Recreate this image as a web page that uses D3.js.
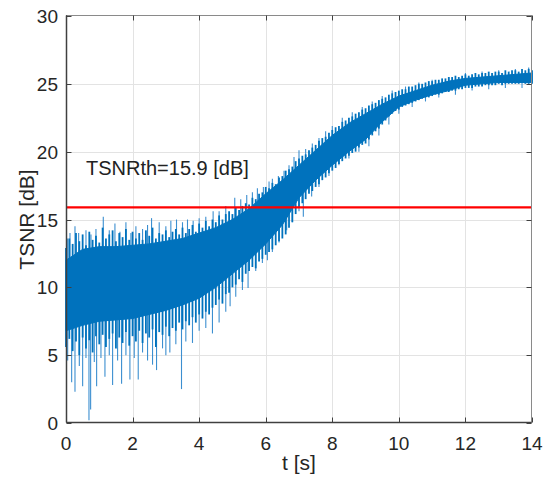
<!DOCTYPE html>
<html>
<head>
<meta charset="utf-8">
<script src="https://d3js.org/d3.v7.min.js"></script>
<style>
  body{ margin:0; background:#fff; }
  svg{ display:block; font-family:"Liberation Sans", Arial, sans-serif; }
</style>
</head>
<body>
<script>
    // solid part of the band, every 0.5 s
    var tGrid  = [0,0.5,1,1.5,2,2.5,3,3.5,4,4.5,5,5.5,6,6.5,7,7.5,8,8.5,9,9.5,10,10.5,11,11.5,12,12.5,13,13.5,14];
    var coreHi = [12.0,12.8,13.0,13.0,13.1,13.2,13.4,13.6,14.0,14.4,15.0,15.8,16.9,17.9,19.0,20.1,21.2,22.1,22.8,23.5,24.1,24.5,24.9,25.2,25.4,25.5,25.6,25.7,25.8];
    var coreLo = [6.8,7.2,7.5,7.6,7.7,8.0,8.3,8.7,9.2,10.0,11.0,12.0,13.2,14.6,16.6,17.9,19.0,20.0,20.9,22.2,23.3,23.8,24.2,24.5,24.9,25.0,25.1,25.1,25.1];

    // ragged edge of the band, every 0.1 s (max / min within each slice)
    var edgeHi = [12.9,13.6,13.2,14.0,13.4,13.9,13.1,14.1,13.5,13.8,
                  13.3,14.4,13.6,13.9,14.2,13.4,14.0,13.7,14.3,13.5,
                  14.1,13.6,14.0,13.5,14.2,13.8,14.4,13.6,14.0,13.9,
                  14.2,13.7,14.1,14.3,13.9,14.4,14.0,14.3,14.6,14.1,
                  14.7,14.4,14.9,14.5,15.0,14.8,15.3,15.0,15.4,15.6,
                  15.4,15.9,15.7,16.0,16.2,16.1,16.6,16.5,16.9,17.0,
                  17.4,17.3,17.7,17.6,18.1,18.2,18.6,18.7,18.9,19.3,
                  19.5,19.7,19.8,20.1,20.3,20.5,20.8,21.0,21.1,21.4,
                  21.6,21.8,21.9,22.2,22.3,22.5,22.6,22.8,22.9,23.1,
                  23.2,23.4,23.5,23.6,23.8,23.9,24.0,24.2,24.3,24.4,
                  24.5,24.6,24.6,24.8,24.8,24.9,25.0,25.0,25.1,25.2,
                  25.2,25.3,25.3,25.4,25.4,25.5,25.5,25.6,25.5,25.6,
                  25.7,25.6,25.7,25.8,25.7,25.8,25.8,25.9,25.8,25.9,
                  25.9,25.8,26.0,25.9,26.0,26.0,25.9,26.1,26.0,26.1,
                  26.0];
    var edgeLo = [5.6,6.2,5.3,6.0,5.0,6.3,5.5,6.1,5.2,6.4,
                  5.8,6.5,5.6,6.2,6.6,5.5,6.3,5.9,6.7,5.7,
                  6.4,6.0,6.8,5.9,6.6,6.3,6.9,5.6,6.7,6.5,
                  7.1,6.4,7.0,6.8,7.4,6.9,7.5,7.2,7.8,7.4,
                  8.0,7.7,8.2,8.0,8.5,8.7,9.1,8.8,9.5,9.6,
                  10.0,10.2,10.6,10.4,11.0,11.2,11.5,11.4,11.9,12.1,
                  12.4,12.6,12.8,13.1,13.4,13.6,13.9,14.4,14.8,15.4,
                  15.9,16.2,16.5,16.9,17.1,17.4,17.6,17.9,18.1,18.4,
                  18.6,18.8,19.1,19.3,19.5,19.7,19.9,20.0,20.3,20.5,
                  20.6,20.9,21.2,21.5,21.7,22.0,22.3,22.6,22.8,23.0,
                  23.1,23.3,23.4,23.5,23.6,23.7,23.8,23.9,24.0,24.0,
                  24.1,24.2,24.2,24.3,24.4,24.4,24.5,24.5,24.6,24.6,
                  24.7,24.7,24.7,24.8,24.8,24.8,24.9,24.9,24.9,24.9,
                  25.0,24.9,25.0,25.0,25.0,25.0,25.0,25.1,25.0,25.0,
                  25.0];

    // single samples that stick far out of the band: [t, value]
    var spikesUp = [[0.05,13.6],[0.12,14.0],[0.27,14.5],[0.38,14.0],[0.6,14.2],[0.75,13.9],[0.9,14.3],[1.12,15.2],[1.3,14.2],[1.47,14.7],[1.62,14.1],[1.8,14.8],[1.95,14.0],[2.1,14.5],[2.3,14.3],[2.45,14.6],[2.57,15.1],[2.8,14.8],[3.0,14.5],[3.15,14.9],[3.32,15.0],[3.5,14.8],[3.65,15.0],[3.82,14.9],[4.0,15.1],[4.2,15.2],[4.42,15.6],[4.6,15.6],[4.8,16.0],[5.07,16.6],[5.25,16.5],[5.43,16.8],[5.6,17.0],[5.75,17.3],[5.93,17.4],[6.1,17.8],[6.2,18.0],[6.38,18.2],[6.55,18.6],[6.7,19.0],[6.85,19.6],[7.0,20.1],[7.2,20.2],[7.4,20.6],[7.6,21.0],[7.8,21.5],[8.0,21.9],[8.3,22.5],[8.6,22.9],[8.9,23.3],[9.2,23.7],[9.5,24.1],[9.8,24.5],[10.2,24.8],[10.6,25.1],[11.0,25.3],[11.5,25.5],[12.0,25.8],[12.5,25.9],[13.0,26.0],[13.5,26.1],[13.9,26.2]];
    var spikesDown = [[0.05,4.6],[0.17,3.0],[0.27,2.3],[0.4,4.2],[0.5,2.7],[0.6,4.8],[0.69,0.2],[0.74,1.0],[0.85,4.5],[0.92,2.7],[1.05,4.8],[1.17,3.4],[1.3,5.0],[1.4,2.8],[1.55,4.6],[1.67,2.9],[1.8,5.0],[1.92,3.2],[2.05,4.8],[2.17,3.2],[2.3,5.2],[2.45,4.6],[2.6,4.3],[2.72,3.9],[2.9,5.5],[3.0,5.0],[3.12,5.2],[3.3,5.8],[3.47,2.5],[3.6,6.0],[3.8,5.9],[4.0,6.8],[4.2,7.0],[4.4,6.6],[4.6,7.4],[4.8,8.2],[4.93,8.6],[5.1,9.3],[5.3,9.8],[5.47,9.95],[5.7,11.2],[5.9,11.8],[6.05,12.0],[6.2,12.6],[6.4,13.3],[6.63,14.2],[6.8,14.8],[7.0,15.6],[7.13,15.2],[7.38,16.7],[7.6,17.4],[7.9,18.2],[8.2,19.0],[8.5,19.5],[8.8,20.0],[9.1,20.4],[9.4,21.2],[9.7,22.0],[10.0,22.8],[10.4,23.3],[10.8,23.7],[11.2,24.0],[11.7,24.2],[12.2,24.5],[12.7,24.6],[13.2,24.7],[13.7,24.7]];

    var threshold = 15.9;
    var xTicks = [0,2,4,6,8,10,12,14];
    var yTicks = [0,5,10,15,20,25,30];

    var svgWidth = 545;
    var svgHeight = 481;
    var blue = "#0072BD";
    var lightBlue = "#3c8fd0";
    var axisC = "#404040";
    var gridC = "#e3e3e3";

    var svg = d3.select("body")
        .append("svg")
        .attr("width", svgWidth)
        .attr("height", svgHeight);

    var x = d3.scaleLinear().domain([0, 14]).range([66, 532]);
    var y = d3.scaleLinear().domain([0, 30]).range([423, 16]);

    // grid
    svg.append("g").selectAll("line")
        .data(xTicks.slice(1, -1))
        .enter().append("line")
        .attr("x1", d => Math.round(x(d)) + 0.5).attr("x2", d => Math.round(x(d)) + 0.5)
        .attr("y1", y(0)).attr("y2", y(30))
        .attr("stroke", gridC).attr("stroke-width", 1);
    svg.append("g").selectAll("line")
        .data(yTicks.slice(1, -1))
        .enter().append("line")
        .attr("y1", d => Math.round(y(d)) + 0.5).attr("y2", d => Math.round(y(d)) + 0.5)
        .attr("x1", x(0)).attr("x2", x(14))
        .attr("stroke", gridC).attr("stroke-width", 1);

    var plot = svg.append("g");

    // spikes sit under the band, from their tip back to the band's middle
    function mid(t) {
        var i = Math.round(t / 0.5);
        return (coreHi[i] + coreLo[i]) / 2;
    }
    plot.selectAll("line.sp")
        .data(spikesUp.concat(spikesDown))
        .enter().append("line")
        .attr("class", "sp")
        .attr("x1", d => x(d[0])).attr("x2", d => x(d[0]))
        .attr("y1", d => y(d[1])).attr("y2", d => y(mid(d[0])))
        .attr("stroke", lightBlue).attr("stroke-width", 1.1);

    // ragged edge slices
    plot.selectAll("line.edge")
        .data(edgeHi)
        .enter().append("line")
        .attr("class", "edge")
        .attr("x1", (d, i) => x(i / 10)).attr("x2", (d, i) => x(i / 10))
        .attr("y1", d => y(d)).attr("y2", (d, i) => y(edgeLo[i]))
        .attr("stroke", blue).attr("stroke-width", 1.8);

    var area = d3.area()
        .x((d, i) => x(tGrid[i]))
        .y0((d, i) => y(coreLo[i]))
        .y1((d, i) => y(coreHi[i]));
    plot.append("path")
        .attr("d", area(tGrid))
        .attr("fill", blue)
        .attr("stroke", blue)
        .attr("stroke-width", 1);

    // threshold line
    svg.append("line")
        .attr("x1", x(0)).attr("x2", x(14))
        .attr("y1", y(threshold)).attr("y2", y(threshold))
        .attr("stroke", "#ff0000").attr("stroke-width", 2.2);

    svg.append("text")
        .attr("x", x(0.6)).attr("y", y(18.3))
        .attr("font-size", 20).attr("fill", "#222")
        .text("TSNRth=" + threshold + " [dB]");

    // box + ticks
    var bx0 = 66.5, bx1 = 531.5, by0 = 15.5, by1 = 422.5;
    svg.append("rect")
        .attr("x", bx0).attr("y", by0)
        .attr("width", bx1 - bx0).attr("height", by1 - by0)
        .attr("fill", "none").attr("stroke", "#8a8a8a").attr("stroke-width", 1);
    svg.append("line").attr("x1", bx0).attr("x2", bx0).attr("y1", by0).attr("y2", by1)
        .attr("stroke", axisC).attr("stroke-width", 1.5);
    svg.append("line").attr("x1", bx0).attr("x2", bx1).attr("y1", by1).attr("y2", by1)
        .attr("stroke", axisC).attr("stroke-width", 1.5);

    var tk = 5;
    xTicks.forEach(function(d) {
        var px = Math.round(x(d)) + 0.5;
        svg.append("line").attr("x1", px).attr("x2", px).attr("y1", by1).attr("y2", by1 - tk).attr("stroke", axisC);
        svg.append("line").attr("x1", px).attr("x2", px).attr("y1", by0).attr("y2", by0 + tk).attr("stroke", axisC);
    });
    yTicks.forEach(function(d) {
        var py = Math.round(y(d)) + 0.5;
        svg.append("line").attr("y1", py).attr("y2", py).attr("x1", bx0).attr("x2", bx0 + tk).attr("stroke", axisC);
        svg.append("line").attr("y1", py).attr("y2", py).attr("x1", bx1).attr("x2", bx1 - tk).attr("stroke", axisC);
    });

    svg.append("g").selectAll("text")
        .data(xTicks)
        .enter().append("text")
        .attr("x", d => x(d)).attr("y", 450)
        .attr("text-anchor", "middle")
        .attr("font-size", 19).attr("fill", "#262626")
        .text(d => d);
    svg.append("g").selectAll("text")
        .data(yTicks)
        .enter().append("text")
        .attr("x", 58).attr("y", d => y(d) + 7)
        .attr("text-anchor", "end")
        .attr("font-size", 19).attr("fill", "#262626")
        .text(d => d);

    svg.append("text")
        .attr("x", x(7)).attr("y", 470)
        .attr("text-anchor", "middle")
        .attr("font-size", 21).attr("fill", "#262626")
        .text("t [s]");
    svg.append("text")
        .attr("transform", "translate(34," + y(15) + ") rotate(-90)")
        .attr("text-anchor", "middle")
        .attr("font-size", 21).attr("fill", "#262626")
        .text("TSNR [dB]");
</script>
</body>
</html>
